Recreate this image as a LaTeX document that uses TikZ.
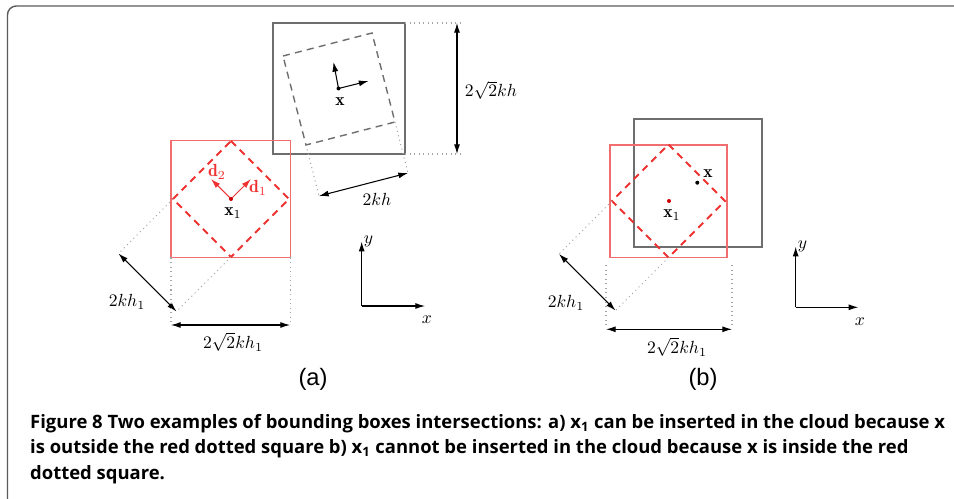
\documentclass[tikz,border=0pt]{standalone}
\usepackage{amsmath}
\usepackage{fontspec}
\newfontfamily\capfont{Open Sans}
\newfontfamily\panelfont{Liberation Sans}
\usetikzlibrary{arrows.meta}
\definecolor{boxgray}{RGB}{110,110,110}
\definecolor{boxred}{RGB}{242,110,110}
\definecolor{dashred}{RGB}{238,50,50}
\definecolor{extgray}{RGB}{165,165,165}
\definecolor{framegray}{RGB}{90,90,90}

\begin{document}
\begin{tikzpicture}[x=0.02cm, y=-0.02cm, >={Latex[length=5.5pt,width=3.4pt]},
  every node/.style={font=\fontsize{10}{12}\selectfont},
  gbox/.style={draw=boxgray, line width=0.8pt},
  gdash/.style={draw=boxgray, line width=0.8pt, dash pattern=on 4pt off 3pt},
  rbox/.style={draw=boxred, line width=0.6pt},
  rdash/.style={draw=dashred, line width=1.1pt, dash pattern=on 4pt off 3pt},
  ext/.style={draw=extgray, line width=0.6pt, dotted},
  dim/.style={<->, line width=0.6pt},
  axis/.style={->, line width=0.6pt},
  panel/.style={font=\panelfont\fontsize{13.5}{16}\selectfont},
  captxt/.style={anchor=base west, font=\capfont\bfseries\fontsize{10.5}{12}\selectfont}]
  \path[use as bounding box] (0,0) rectangle (954,499);
  \clip (0,0) rectangle (954,499);
  \draw[framegray, line width=0.8pt, rounded corners=5pt] (7.5,530) -- (7.5,6) -- (990,6);

  % (a): box of x, rotated and axis aligned
  \draw[gbox] (273,23) rectangle (405,154);
  \coordinate (ga1) at (283,56);
  \coordinate (ga2) at (372,33);
  \coordinate (ga3) at (395,122);
  \coordinate (ga4) at (306,145);
  \draw[gdash] (ga1) -- (ga2) -- (ga3) -- (ga4) -- cycle;
  \coordinate (ea3) at (408,173);
  \coordinate (ea4) at (319,196);
  \draw[ext] (ga3) -- (ea3);
  \draw[ext] (ga4) -- (ea4);
  \draw[dim] (ea4) -- (ea3);
  \node (lkh) at (377,199) {$2kh$};
  \coordinate (gt) at (460,23);
  \coordinate (gb) at (460,154);
  \draw[ext] (405,23) -- (gt);
  \draw[ext] (405,154) -- (gb);
  \coordinate (vt) at (457,23);
  \coordinate (vb) at (457,154);
  \draw[dim] (vt) -- (vb);
  \node (lskh) at (491,90) {$2\sqrt{2}kh$};
  \coordinate (xa) at (338.5,88.5);
  \coordinate (xau) at (333.5,62);
  \coordinate (xar) at (368.5,81);
  \draw[axis] (xa) -- (xau);
  \draw[axis] (xa) -- (xar);
  \fill (xa) circle (2);
  \node (lxa) at (340,102) {$\mathbf{x}$};

  % (a): box of x1
  \draw[rbox] (171,140.5) rectangle (290.5,257.5);
  \coordinate (ra1) at (231,141);
  \coordinate (ra2) at (289,199);
  \coordinate (ra3) at (231,257);
  \coordinate (ra4) at (173,199);
  \draw[rdash] (ra1) -- (ra2) -- (ra3) -- (ra4) -- cycle;
  \coordinate (x1a) at (231,199);
  \coordinate (d1a) at (251,179);
  \coordinate (d2a) at (211,179);
  \draw[axis, dashred] (x1a) -- (d1a);
  \draw[axis, dashred] (x1a) -- (d2a);
  \fill[red!80!black] (x1a) circle (2);
  \node[dashred] (ld1) at (258,188) {$\mathbf{d}_1$};
  \node[dashred] (ld2) at (217,172) {$\mathbf{d}_2$};
  \node (lx1a) at (233,213) {$\mathbf{x}_1$};
  \coordinate (fa4) at (118.5,253.5);
  \coordinate (fa3) at (176.5,311.5);
  \draw[ext] (ra4) -- (fa4);
  \draw[ext] (ra3) -- (fa3);
  \draw[dim] (fa4) -- (fa3);
  \node (lkh1a) at (127,302) {$2kh_1$};
  \draw[ext] (171,257.5) -- (171,322);
  \draw[ext] (290.5,257.5) -- (290.5,322);
  \coordinate (ha) at (171,325);
  \coordinate (hb) at (290,325);
  \draw[dim] (ha) -- (hb);
  \node (lskh1a) at (233,342) {$2\sqrt{2}kh_1$};

  % (a): axes
  \coordinate (oa) at (361.7,306);
  \coordinate (ya) at (361.7,241.7);
  \coordinate (xxa) at (425,306);
  \draw[axis] (oa) -- (ya);
  \draw[axis] (oa) -- (xxa);
  \node[anchor=west, inner sep=1pt] (lya) at (ya) {$y$};
  \node (lxxa) at (427,320) {$x$};
  \node[panel] (pa) at (313,379) {(a)};

  % (b): both boxes
  \draw[gbox] (634,119) rectangle (762,247);
  \draw[rbox] (610,145) rectangle (727,257.5);
  \coordinate (rb1) at (668.5,144.5);
  \coordinate (rb2) at (725,201);
  \coordinate (rb3) at (668.5,257.5);
  \coordinate (rb4) at (612,201);
  \draw[rdash] (rb1) -- (rb2) -- (rb3) -- (rb4) -- cycle;
  \coordinate (x1b) at (669,201);
  \coordinate (xb) at (697.3,182.7);
  \fill[red!80!black] (x1b) circle (2);
  \fill (xb) circle (2);
  \node (lx1b) at (672,215) {$\mathbf{x}_1$};
  \node (lxb) at (708,174) {$\mathbf{x}$};
  \coordinate (fb4) at (559,254);
  \coordinate (fb3) at (615.5,310.5);
  \draw[ext] (rb4) -- (fb4);
  \draw[ext] (rb3) -- (fb3);
  \draw[dim] (fb4) -- (fb3);
  \node (lkh1b) at (566,303) {$2kh_1$};
  \draw[ext] (606,265) -- (606,327);
  \draw[ext] (732,265) -- (732,327);
  \coordinate (hc) at (606,329.3);
  \coordinate (hd) at (732,329.3);
  \draw[dim] (hc) -- (hd);
  \node (lskh1b) at (677,347) {$2\sqrt{2}kh_1$};

  % (b): axes
  \coordinate (ob) at (795.7,307.3);
  \coordinate (yb) at (795.7,246.7);
  \coordinate (xxb) at (858.3,307.3);
  \draw[axis] (ob) -- (yb);
  \draw[axis] (ob) -- (xxb);
  \node[anchor=west, inner sep=1pt] (lyb) at (yb) {$y$};
  \node (lxxb) at (860,322) {$x$};
  \node[panel] (pb) at (703,379) {(b)};

  % caption
  \node[captxt] (cap1) at (24,428.3) {Figure 8 Two examples of bounding boxes intersections: a) x\textsubscript{1} can be inserted in the cloud because x};
  \node[captxt] (cap2) at (24,454) {is outside the red dotted square b) x\textsubscript{1} cannot be inserted in the cloud because x is inside the red};
  \node[captxt] (cap3) at (24,479.5) {dotted square.};
\end{tikzpicture}
\end{document}
